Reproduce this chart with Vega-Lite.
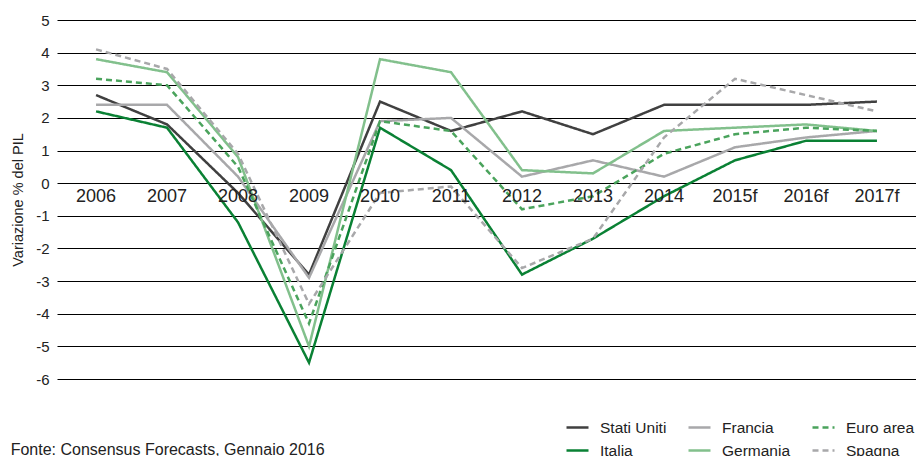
{
  "$schema": "https://vega.github.io/schema/vega-lite/v6.json",
  "width": 859,
  "height": 359,
  "autosize": {"type": "none"},
  "padding": {"left": 57, "top": 20, "right": 0, "bottom": 77},
  "background": "white",
  "config": {
    "view": {"stroke": null},
    "font": "Liberation Sans",
    "text": {"font": "Liberation Sans"}
  },
  "title": {
    "text": "Fonte: Consensus Forecasts, Gennaio 2016",
    "orient": "bottom",
    "anchor": "start",
    "frame": "bounds",
    "fontSize": 16,
    "fontWeight": "normal",
    "color": "#222222",
    "offset": -17
  },
  "data": {
    "values": [
      {"year": "2006", "series": "Stati Uniti", "value": 2.7},
      {"year": "2007", "series": "Stati Uniti", "value": 1.8},
      {"year": "2008", "series": "Stati Uniti", "value": -0.3},
      {"year": "2009", "series": "Stati Uniti", "value": -2.8},
      {"year": "2010", "series": "Stati Uniti", "value": 2.5},
      {"year": "2011", "series": "Stati Uniti", "value": 1.6},
      {"year": "2012", "series": "Stati Uniti", "value": 2.2},
      {"year": "2013", "series": "Stati Uniti", "value": 1.5},
      {"year": "2014", "series": "Stati Uniti", "value": 2.4},
      {"year": "2015f", "series": "Stati Uniti", "value": 2.4},
      {"year": "2016f", "series": "Stati Uniti", "value": 2.4},
      {"year": "2017f", "series": "Stati Uniti", "value": 2.5},
      {"year": "2006", "series": "Italia", "value": 2.2},
      {"year": "2007", "series": "Italia", "value": 1.7},
      {"year": "2008", "series": "Italia", "value": -1.2},
      {"year": "2009", "series": "Italia", "value": -5.5},
      {"year": "2010", "series": "Italia", "value": 1.7},
      {"year": "2011", "series": "Italia", "value": 0.4},
      {"year": "2012", "series": "Italia", "value": -2.8},
      {"year": "2013", "series": "Italia", "value": -1.7},
      {"year": "2014", "series": "Italia", "value": -0.4},
      {"year": "2015f", "series": "Italia", "value": 0.7},
      {"year": "2016f", "series": "Italia", "value": 1.3},
      {"year": "2017f", "series": "Italia", "value": 1.3},
      {"year": "2006", "series": "Francia", "value": 2.4},
      {"year": "2007", "series": "Francia", "value": 2.4},
      {"year": "2008", "series": "Francia", "value": 0.2},
      {"year": "2009", "series": "Francia", "value": -2.9},
      {"year": "2010", "series": "Francia", "value": 1.9},
      {"year": "2011", "series": "Francia", "value": 2.0},
      {"year": "2012", "series": "Francia", "value": 0.2},
      {"year": "2013", "series": "Francia", "value": 0.7},
      {"year": "2014", "series": "Francia", "value": 0.2},
      {"year": "2015f", "series": "Francia", "value": 1.1},
      {"year": "2016f", "series": "Francia", "value": 1.4},
      {"year": "2017f", "series": "Francia", "value": 1.6},
      {"year": "2006", "series": "Germania", "value": 3.8},
      {"year": "2007", "series": "Germania", "value": 3.4},
      {"year": "2008", "series": "Germania", "value": 0.8},
      {"year": "2009", "series": "Germania", "value": -5.0},
      {"year": "2010", "series": "Germania", "value": 3.8},
      {"year": "2011", "series": "Germania", "value": 3.4},
      {"year": "2012", "series": "Germania", "value": 0.4},
      {"year": "2013", "series": "Germania", "value": 0.3},
      {"year": "2014", "series": "Germania", "value": 1.6},
      {"year": "2015f", "series": "Germania", "value": 1.7},
      {"year": "2016f", "series": "Germania", "value": 1.8},
      {"year": "2017f", "series": "Germania", "value": 1.6},
      {"year": "2006", "series": "Euro area", "value": 3.2},
      {"year": "2007", "series": "Euro area", "value": 3.0},
      {"year": "2008", "series": "Euro area", "value": 0.5},
      {"year": "2009", "series": "Euro area", "value": -4.3},
      {"year": "2010", "series": "Euro area", "value": 1.9},
      {"year": "2011", "series": "Euro area", "value": 1.6},
      {"year": "2012", "series": "Euro area", "value": -0.8},
      {"year": "2013", "series": "Euro area", "value": -0.4},
      {"year": "2014", "series": "Euro area", "value": 0.9},
      {"year": "2015f", "series": "Euro area", "value": 1.5},
      {"year": "2016f", "series": "Euro area", "value": 1.7},
      {"year": "2017f", "series": "Euro area", "value": 1.6},
      {"year": "2006", "series": "Spagna", "value": 4.1},
      {"year": "2007", "series": "Spagna", "value": 3.5},
      {"year": "2008", "series": "Spagna", "value": 0.9},
      {"year": "2009", "series": "Spagna", "value": -3.7},
      {"year": "2010", "series": "Spagna", "value": -0.3},
      {"year": "2011", "series": "Spagna", "value": -0.1},
      {"year": "2012", "series": "Spagna", "value": -2.6},
      {"year": "2013", "series": "Spagna", "value": -1.7},
      {"year": "2014", "series": "Spagna", "value": 1.4},
      {"year": "2015f", "series": "Spagna", "value": 3.2},
      {"year": "2016f", "series": "Spagna", "value": 2.7},
      {"year": "2017f", "series": "Spagna", "value": 2.2}
    ]
  },
  "layer": [
    {
      "mark": {"type": "line", "strokeWidth": 2.5},
      "encoding": {
        "x": {
          "field": "year",
          "type": "ordinal",
          "scale": {"type": "point", "padding": 0.55},
          "axis": null
        },
        "y": {
          "field": "value",
          "type": "quantitative",
          "scale": {"domain": [-6, 5], "nice": false, "zero": false},
          "axis": {
            "values": [-6, -5, -4, -3, -2, -1, 0, 1, 2, 3, 4, 5],
            "labelExpr": "'' + datum.value",
            "labelOverlap": false,
            "labelFlush": false,
            "labelBound": false,
            "title": "Variazione % del PIL",
            "titleFontSize": 14.5,
            "titleFontWeight": "normal",
            "titleColor": "#222222",
            "titlePadding": 10,
            "labelFontSize": 15,
            "labelColor": "#222222",
            "labelPadding": 8,
            "ticks": false,
            "domain": false,
            "grid": true,
            "gridColor": "#000000",
            "gridWidth": 1,
            "gridOpacity": 1
          }
        },
        "color": {
          "field": "series",
          "type": "nominal",
          "scale": {
            "domain": ["Stati Uniti", "Italia", "Francia", "Germania", "Euro area", "Spagna"],
            "range": ["#404040", "#0a8134", "#a8a8aa", "#82c08c", "#4aa35c", "#a8a8aa"]
          },
          "legend": {
            "title": null,
            "orient": "none",
            "legendX": 508,
            "legendY": 395,
            "columns": 3,
            "columnPadding": 16,
            "rowPadding": 2,
            "symbolType": "stroke",
            "symbolSize": 484,
            "symbolStrokeWidth": 2.5,
            "labelFontSize": 15.5,
            "labelColor": "#222222",
            "labelOffset": 10,
            "padding": 0
          }
        },
        "strokeDash": {
          "field": "series",
          "type": "nominal",
          "scale": {
            "domain": ["Stati Uniti", "Italia", "Francia", "Germania", "Euro area", "Spagna"],
            "range": [[1, 0], [1, 0], [1, 0], [1, 0], [6, 4], [6, 4]]
          },
          "legend": null
        }
      }
    },
    {
      "data": {"values": [
        {"year": "2006"}, {"year": "2007"}, {"year": "2008"}, {"year": "2009"},
        {"year": "2010"}, {"year": "2011"}, {"year": "2012"}, {"year": "2013"},
        {"year": "2014"}, {"year": "2015f"}, {"year": "2016f"}, {"year": "2017f"}
      ]},
      "mark": {"type": "text", "fontSize": 18, "color": "#222222", "baseline": "middle", "dy": 14},
      "encoding": {
        "x": {"field": "year", "type": "ordinal"},
        "y": {
          "datum": 0,
          "type": "quantitative",
          "axis": {
            "values": [-6, -5, -4, -3, -2, -1, 0, 1, 2, 3, 4, 5],
            "labelExpr": "'' + datum.value",
            "labelOverlap": false,
            "labelFlush": false,
            "labelBound": false,
            "title": "Variazione % del PIL",
            "titleFontSize": 14.5,
            "titleFontWeight": "normal",
            "titleColor": "#222222",
            "titlePadding": 10,
            "labelFontSize": 15,
            "labelColor": "#222222",
            "labelPadding": 8,
            "ticks": false,
            "domain": false,
            "grid": true,
            "gridColor": "#000000",
            "gridWidth": 1,
            "gridOpacity": 1
          }
        },
        "text": {"field": "year"}
      }
    }
  ]
}
